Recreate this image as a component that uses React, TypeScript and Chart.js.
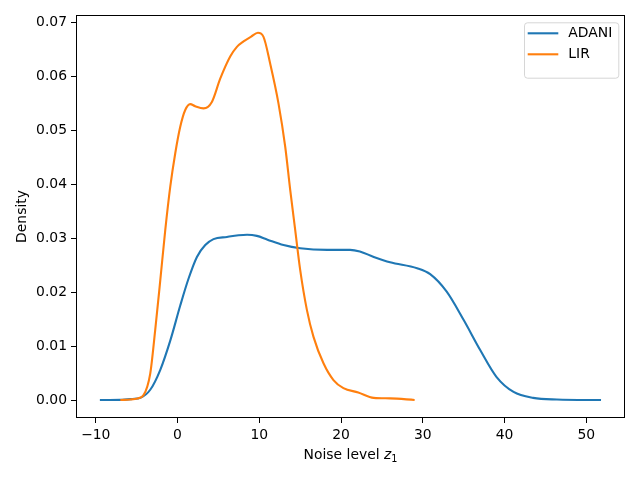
import { useEffect, useRef } from "react"
import { Chart, registerables, Plugin } from "chart.js"

Chart.register(...registerables)

const FONT = "DejaVu Sans"
const BLUE = "#1f77b4"
const ORANGE = "#ff7f0e"

// tick labels
const xTicks = [-10, 0, 10, 20, 30, 40, 50]
const yTicks = [0, 0.01, 0.02, 0.03, 0.04, 0.05, 0.06, 0.07]

// ADANI density
const adaniX = [-9.5, -7, -5.5, -4.56, -3.34, -2.11, -0.89, 0.33, 1.35, 2.37, 3.39, 4.4, 6.04, 7.46, 8.5, 9.7, 11, 12.96, 15, 18.3, 21.1, 22.3, 24, 26, 29.3, 30.9, 32.9, 35, 37, 39, 41.1, 43.5, 46.4, 51.8]
const adaniY = [0, 0.00003, 0.0002, 0.0004, 0.0019, 0.0056, 0.011, 0.0175, 0.0225, 0.0265, 0.0287, 0.0298, 0.0302, 0.0305, 0.0306, 0.0304, 0.0297, 0.0287, 0.0281, 0.0278, 0.0278, 0.0275, 0.0265, 0.0255, 0.0244, 0.0233, 0.0201, 0.0148, 0.0093, 0.0043, 0.0015, 0.0004, 0.0001, 0]

// LIR density
const lirX = [-7, -5.78, -4.9, -4.16, -3.34, -2.73, -2.11, -1.5, -0.89, -0.28, 0.33, 0.94, 1.55, 2.16, 3.18, 4.2, 5.22, 6.44, 7.26, 8.07, 9.0, 9.83, 10.5, 11.33, 12.35, 13.17, 13.78, 14.39, 15.0, 15.82, 16.63, 17.85, 19.07, 20.29, 22.1, 24, 26, 29]
const lirY = [0, 0.0001, 0.0003, 0.0009, 0.0049, 0.013, 0.0222, 0.0315, 0.0395, 0.0457, 0.0506, 0.0537, 0.0548, 0.0544, 0.054, 0.0552, 0.0595, 0.0636, 0.0654, 0.0664, 0.0673, 0.068, 0.0673, 0.0623, 0.0549, 0.0469, 0.0389, 0.0315, 0.0241, 0.0167, 0.0117, 0.0068, 0.0037, 0.0022, 0.0014, 0.0004, 0.0003, 0]

const toPoints = (xs: number[], ys: number[]) => xs.map((x, i) => ({ x, y: ys[i] }))

const framePlugin: Plugin = {
  id: "frameAndLabels",
  afterDraw: (chart) => {
    const { ctx, chartArea } = chart
    const { left, right, top, bottom } = chartArea
    ctx.save()

    // axes box
    ctx.strokeStyle = "#000"
    ctx.lineWidth = 1
    ctx.strokeRect(left + 0.5, top + 0.5, right - left - 1, bottom - top - 1)

    // x label: Noise level z_1
    ctx.fillStyle = "#000"
    ctx.textBaseline = "alphabetic"
    const base = `13.9px "${FONT}"`
    const ital = `oblique 13.9px "${FONT}"`
    const sub = `9.7px "${FONT}"`
    ctx.font = base
    const w1 = ctx.measureText("Noise level ").width
    ctx.font = ital
    const w2 = ctx.measureText("z").width
    ctx.font = sub
    const w3 = ctx.measureText("1").width
    let x0 = (left + right) / 2 - (w1 + w2 + w3) / 2
    const by = 459
    ctx.textAlign = "left"
    ctx.font = base
    ctx.fillText("Noise level ", x0, by)
    x0 += w1
    ctx.font = ital
    ctx.fillText("z", x0, by)
    x0 += w2
    ctx.font = sub
    ctx.fillText("1", x0, by + 3)

    // y label
    ctx.save()
    ctx.translate(22, (top + bottom) / 2)
    ctx.rotate(-Math.PI / 2)
    ctx.font = base
    ctx.textAlign = "center"
    ctx.textBaseline = "middle"
    ctx.fillText("Density", 0, 0)
    ctx.restore()

    // legend
    const bw = 94.3
    const bh = 55.4
    const bx = right - 6.7 - bw
    const byTop = top + 7.3
    ctx.beginPath()
    ctx.roundRect(bx + 0.5, byTop + 0.5, bw, bh, 3)
    ctx.fillStyle = "rgba(255,255,255,0.8)"
    ctx.fill()
    ctx.strokeStyle = "rgba(204,204,204,0.8)"
    ctx.lineWidth = 1
    ctx.stroke()
    chart.data.datasets.forEach((ds, i) => {
      const ly = byTop + 11 + i * 21
      ctx.beginPath()
      ctx.strokeStyle = ds.borderColor as string
      ctx.lineWidth = 2.1
      ctx.moveTo(bx + 3.7, ly)
      ctx.lineTo(bx + 34.3, ly)
      ctx.stroke()
      ctx.fillStyle = "#000"
      ctx.font = base
      ctx.textAlign = "left"
      ctx.textBaseline = "middle"
      ctx.fillText(ds.label as string, bx + 44.3, ly)
    })

    ctx.restore()
  },
}

export default function App() {
  const canvasRef = useRef<HTMLCanvasElement>(null)
  const chartRef = useRef<Chart | null>(null)

  useEffect(() => {
    if (!canvasRef.current) return
    if (chartRef.current) chartRef.current.destroy()

    const tickFont = { family: FONT, size: 13.9 }

    chartRef.current = new Chart(canvasRef.current, {
      type: "scatter",
      data: {
        datasets: [
          {
            label: "ADANI",
            data: toPoints(adaniX, adaniY),
            borderColor: BLUE,
            backgroundColor: BLUE,
            borderWidth: 2.1,
            showLine: true,
            pointRadius: 0,
            cubicInterpolationMode: "monotone",
            order: 1,
          },
          {
            label: "LIR",
            data: toPoints(lirX, lirY),
            borderColor: ORANGE,
            backgroundColor: ORANGE,
            borderWidth: 2.1,
            showLine: true,
            pointRadius: 0,
            cubicInterpolationMode: "monotone",
            order: 0,
          },
        ],
      },
      options: {
        responsive: true,
        maintainAspectRatio: false,
        animation: false,
        layout: { padding: { left: 0, top: 15, right: 15, bottom: 0 } },
        plugins: {
          legend: { display: false },
          tooltip: { enabled: false },
        },
        scales: {
          x: {
            type: "linear",
            min: -12.42,
            max: 54.73,
            afterBuildTicks: (axis) => {
              axis.ticks = xTicks.map((v) => ({ value: v }))
            },
            afterFit: (axis) => {
              axis.height = 62
            },
            grid: { drawOnChartArea: false, drawTicks: true, tickLength: 5, color: "#000", lineWidth: 1 },
            border: { display: false },
            ticks: {
              color: "#000",
              font: tickFont,
              padding: 4,
              maxRotation: 0,
              autoSkip: false,
              callback: (v) => (Number(v) < 0 ? "\u2212" + Math.abs(Number(v)) : String(v)),
            },
          },
          y: {
            type: "linear",
            min: -0.00333,
            max: 0.0713,
            afterBuildTicks: (axis) => {
              axis.ticks = yTicks.map((v) => ({ value: v }))
            },
            afterFit: (axis) => {
              axis.width = 76
            },
            grid: { drawOnChartArea: false, drawTicks: true, tickLength: 5, color: "#000", lineWidth: 1 },
            border: { display: false },
            ticks: {
              color: "#000",
              font: tickFont,
              padding: 4,
              autoSkip: false,
              callback: (v) => Number(v).toFixed(2),
            },
          },
        },
      },
      plugins: [framePlugin],
    })

    return () => {
      if (chartRef.current) {
        chartRef.current.destroy()
        chartRef.current = null
      }
    }
  }, [])

  return (
    <div style={{ position: "absolute", left: 0, top: 0, width: 640, height: 480, background: "#fff" }}>
      <canvas ref={canvasRef} />
    </div>
  )
}
